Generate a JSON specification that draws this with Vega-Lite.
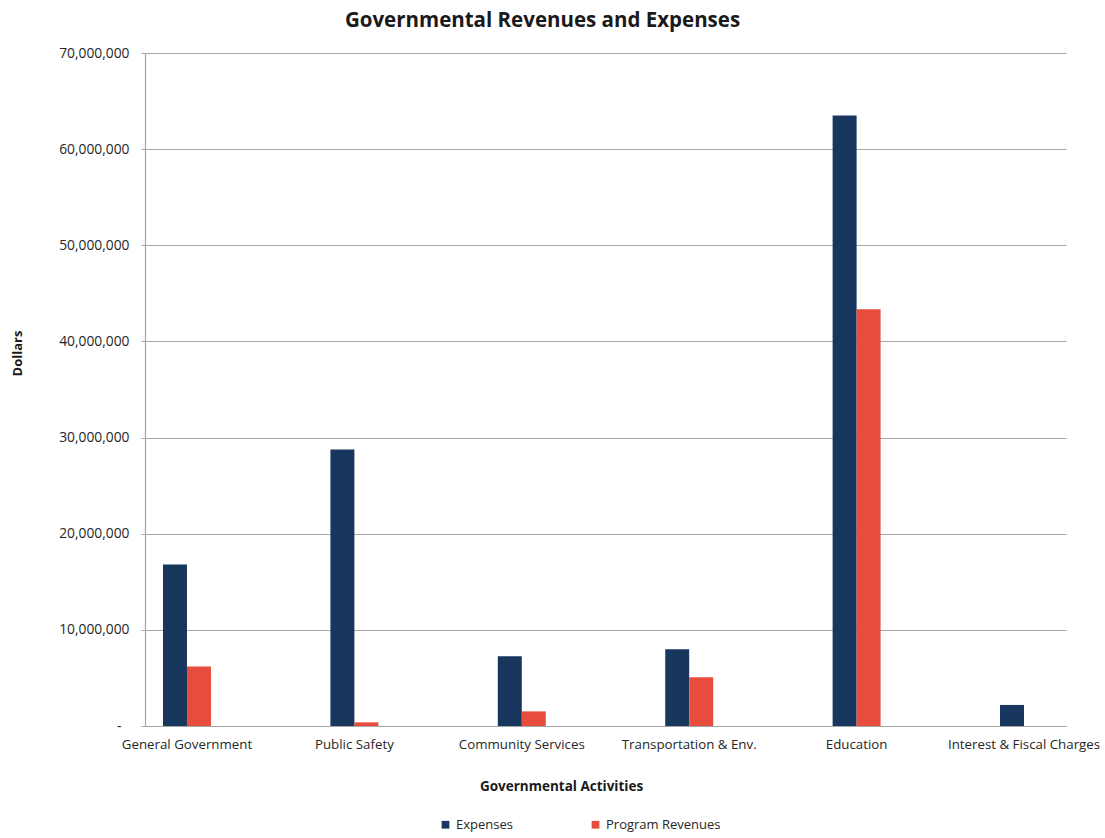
{
  "$schema": "https://vega.github.io/schema/vega-lite/v6.json",
  "width": 921,
  "height": 673,
  "autosize": {"type": "none"},
  "padding": {"left": 145, "top": 53, "right": 39, "bottom": 112},
  "background": "white",
  "title": {
    "text": "Governmental Revenues and Expenses",
    "font": "Open Sans",
    "fontSize": 20.5,
    "fontWeight": "bold",
    "color": "#1a1a1a",
    "anchor": "middle",
    "dx": -63,
    "offset": 15
  },
  "data": {
    "values": [
      {"activity": "General Government", "series": "Expenses", "amount": 16800000},
      {"activity": "General Government", "series": "Program Revenues", "amount": 6200000},
      {"activity": "Public Safety", "series": "Expenses", "amount": 28750000},
      {"activity": "Public Safety", "series": "Program Revenues", "amount": 380000},
      {"activity": "Community Services", "series": "Expenses", "amount": 7260000},
      {"activity": "Community Services", "series": "Program Revenues", "amount": 1520000},
      {"activity": "Transportation & Env.", "series": "Expenses", "amount": 7970000},
      {"activity": "Transportation & Env.", "series": "Program Revenues", "amount": 5060000},
      {"activity": "Education", "series": "Expenses", "amount": 63500000},
      {"activity": "Education", "series": "Program Revenues", "amount": 43350000},
      {"activity": "Interest & Fiscal Charges", "series": "Expenses", "amount": 2190000},
      {"activity": "Interest & Fiscal Charges", "series": "Program Revenues", "amount": 0}
    ]
  },
  "mark": {"type": "bar"},
  "encoding": {
    "x": {
      "field": "activity",
      "type": "nominal",
      "sort": null,
      "scale": {"paddingInner": 0.7134, "paddingOuter": 0.1075},
      "axis": {
        "title": "Governmental Activities",
        "titleFont": "Open Sans",
        "titleFontSize": 13.5,
        "titleFontWeight": "bold",
        "titleColor": "#1a1a1a",
        "titlePadding": 29,
        "titleX": 416,
        "labelFont": "Open Sans",
        "labelFontSize": 13.3,
        "labelColor": "#262626",
        "labelAngle": 0,
        "labelPadding": 11,
        "labelOverlap": false,
        "labelBound": false,
        "ticks": false,
        "domainColor": "#a6a6a6",
        "domainWidth": 1.2
      }
    },
    "xOffset": {
      "field": "series",
      "type": "nominal",
      "scale": {"paddingInner": 0, "paddingOuter": 0}
    },
    "y": {
      "field": "amount",
      "type": "quantitative",
      "scale": {"domain": [0, 70000000], "nice": false},
      "axis": {
        "title": "Dollars",
        "titleFont": "Open Sans",
        "titleFontSize": 13,
        "titleFontWeight": "bold",
        "titleColor": "#1a1a1a",
        "titleX": -121,
        "titleY": 300,
        "values": [0, 10000000, 20000000, 30000000, 40000000, 50000000, 60000000, 70000000],
        "labelExpr": "datum.value == 0 ? '-' : format(datum.value, ',')",
        "labelFont": "Open Sans",
        "labelFontSize": 13.8,
        "labelColor": "#262626",
        "labelPadding": {"condition": {"test": "datum.value == 0", "value": 20}, "value": 12},
        "labelOverlap": false,
        "labelBound": false,
        "labelFlush": false,
        "tickSize": 4,
        "tickColor": "#a6a6a6",
        "domainColor": "#a6a6a6",
        "domainWidth": 1.2,
        "grid": true,
        "gridColor": "#a6a6a6",
        "gridWidth": 1.2
      }
    },
    "color": {
      "field": "series",
      "type": "nominal",
      "scale": {"domain": ["Expenses", "Program Revenues"], "range": ["#17375e", "#e84c3d"]},
      "legend": {
        "title": null,
        "orient": "none",
        "legendX": 294,
        "legendY": 765,
        "direction": "horizontal",
        "symbolType": "square",
        "symbolSize": 60,
        "symbolStrokeWidth": 0,
        "labelFont": "Open Sans",
        "labelFontSize": 13,
        "labelColor": "#262626",
        "labelOffset": 4,
        "columnPadding": 76
      }
    }
  },
  "config": {
    "view": {"stroke": null}
  }
}
